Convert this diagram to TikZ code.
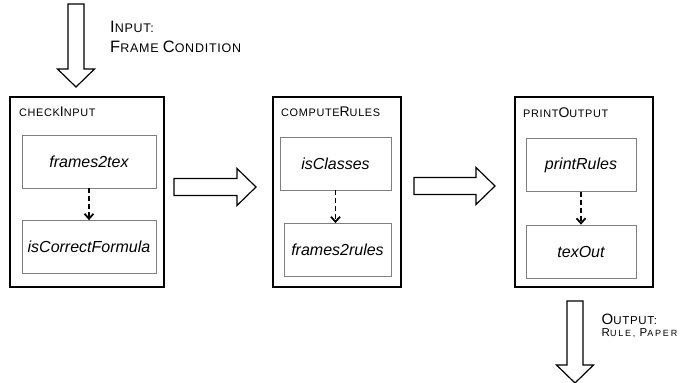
\documentclass[tikz,border=0pt]{standalone}
\usepackage{fontspec}
\setmainfont{Liberation Sans}
\newfontfamily\scfont[LetterSpace=6]{Liberation Sans}
\newfontfamily\widescfont[LetterSpace=20]{Liberation Sans}
\usetikzlibrary{calc,arrows.meta}
\definecolor{boxgray}{HTML}{7F7F7F}
\newcommand{\up}[2][14]{{\fontsize{#1}{#1}\selectfont #2}}
\newcommand{\rightblock}[2]{\draw[blockarrow] let \p1=(#1),\p2=(#2) in (\x1,\y1+8.5pt)--(\x2-19pt,\y1+8.5pt)--(\x2-19pt,\y1+18.5pt)--(\x2,\y1)--(\x2-19pt,\y1-18.5pt)--(\x2-19pt,\y1-8.5pt)--(\x1,\y1-8.5pt)--cycle;}
\newcommand{\downblock}[2]{\draw[blockarrow] let \p1=(#1),\p2=(#2) in (\x1-8pt,\y1)--(\x1-8pt,\y2+18pt)--(\x1-18.5pt,\y2+18pt)--(\x1,\y2)--(\x1+18.5pt,\y2+18pt)--(\x1+8pt,\y2+18pt)--(\x1+8pt,\y1)--cycle;}
\begin{document}
\begin{tikzpicture}[x=1pt,y=1pt,
  outer/.style={draw,line width=2pt,minimum width=#1,minimum height=190pt,inner sep=0pt},
  inner/.style={draw=boxgray,line width=0.8pt,minimum width=#1,minimum height=53pt,inner sep=0pt,font=\itshape\fontsize{16}{19}\selectfont},
  title/.style={anchor=base west,inner sep=0pt,font=\scfont\fontsize{10.9}{12}\selectfont},
  flow/.style={-{Straight Barb[length=5pt,width=9pt]},dash pattern=on 5pt off 3pt,line width=1.8pt},
  blockarrow/.style={draw,line width=1.2pt,fill=white}]
\useasboundingbox (0,0) rectangle (683,383);
% the three stages
\node[outer=154pt](check) at (87,191){};
\node[outer=128pt](compute) at (337,191){};
\node[outer=138pt](print) at (584,190.5){};
\node[title] at ($(check.north west)+(10,-21)$){CHECK\up{I}NPUT};
\node[title] at ($(compute.north west)+(9,-21)$){COMPUTE\up{R}ULES};
\node[title] at ($(print.north west)+(9,-21)$){PRINT\up{O}UTPUT};
% functions inside
\node[inner=134pt](fr2tex) at (89,221.5){frames2tex};
\node[inner=134pt](correct) at (89,136){isCorrectFormula};
\node[inner=111pt](classes) at (335.5,219.5){isClasses};
\node[inner=107pt](fr2rules) at (337.5,133){frames2rules};
\node[inner=110pt](prules) at (581,218){printRules};
\node[inner=110pt](texout) at (581,131.5){texOut};
\draw[flow](fr2tex.south)--(fr2tex.south|-correct.north);
\draw[flow](classes.south)--(classes.south|-fr2rules.north);
\draw[flow](prules.south)--(prules.south|-texout.north);
% block arrows
\coordinate(in1) at ($(check.north)+(-11,92)$);
\coordinate(in2) at ($(check.north)+(-11,9)$);
\coordinate(a1) at ($(check.east)+(9,5)$);
\coordinate(b1) at ($(compute.west)+(-16,5)$);
\coordinate(a2) at ($(compute.east)+(12,6)$);
\coordinate(b2) at ($(print.west)+(-19,6.5)$);
\coordinate(out1) at ($(print.south)+(-9,-12.5)$);
\coordinate(out2) at ($(print.south)+(-9,-94.5)$);
\downblock{in1}{in2}
\rightblock{a1}{b1}
\rightblock{a2}{b2}
\downblock{out1}{out2}
% base anchor sits on the last line
\node[anchor=base west,inner sep=0pt,align=left,font=\scfont\fontsize{12.5}{20}\selectfont](inlabel) at (110,330){\up[16.5]{I}NPUT:\\\up[16.5]{F}RAME \up[16.5]{C}ONDITION};
\node[anchor=base west,inner sep=0pt,align=left,font=\scfont\fontsize{11.5}{12.5}\selectfont](outlabel) at (601.5,46){\up[15]{O}UTPUT:\\\widescfont\fontsize{9}{12.5}\selectfont\up[11.5]{R}ULE, \up[11.5]{P}APER};
\end{tikzpicture}
\end{document}
